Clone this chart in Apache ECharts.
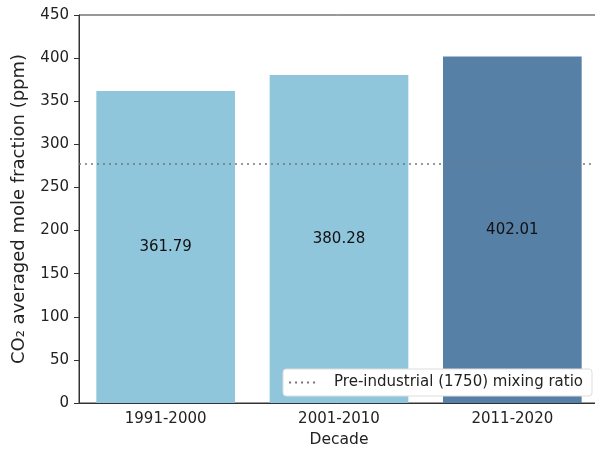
<!DOCTYPE html>
<html>
<head>
<meta charset="utf-8">
<script src="https://cdn.jsdelivr.net/npm/echarts@6/dist/echarts.min.js"></script>
<style>
  html, body { margin: 0; padding: 0; background: #fff; }
  #chart { width: 595px; height: 451px; }
</style>
</head>
<body>
<div id="chart"></div>
<script>
// data
const decades = ['1991-2000', '2001-2010', '2011-2020'];
const co2 = [361.79, 380.28, 402.01];
const barColors = ['#8fc6dc', '#8fc6dc', '#5680a6'];
const preIndustrial = 278;
const yTicks = [0, 50, 100, 150, 200, 250, 300, 350, 400, 450];

let myChart = echarts.init(document.getElementById('chart'));

let barData = co2.map((v, i) => ({ value: v, itemStyle: { color: barColors[i] } }));

const font = 'DejaVu Sans';

let option = {
    animation: false,
    textStyle: { fontFamily: font },
    // plot runs past the right edge of the picture
    grid: { left: 79, width: 520, top: 15, bottom: 48, outerBoundsMode: 'none', show: true, borderColor: '#333', borderWidth: 1, backgroundColor: 'transparent' },
    legend: {
        right: 3,
        bottom: 55,
        data: ['Pre-industrial (1750) mixing ratio'],
        backgroundColor: '#fff',
        borderColor: '#ddd',
        borderWidth: 1,
        borderRadius: 3,
        padding: [6, 9, 6, 5],
        itemWidth: 30,
        itemHeight: 10,
        itemGap: 6,
        itemStyle: { opacity: 0 },
        textStyle: { fontSize: 15, color: '#222', fontFamily: font, padding: [0, 0, 0, 10] }
    },
    xAxis: {
        type: 'category',
        data: decades,
        name: 'Decade',
        nameLocation: 'middle',
        nameGap: 29,
        nameTextStyle: { fontSize: 15.5, color: '#222' },
        axisLine: { lineStyle: { color: '#333' } },
        axisTick: { alignWithLabel: true, length: 5, lineStyle: { color: '#333' } },
        axisLabel: { fontSize: 15, color: '#222', margin: 9 }
    },
    yAxis: {
        type: 'value',
        min: yTicks[0],
        max: yTicks[yTicks.length - 1],
        interval: 50,
        name: 'CO\u2082 averaged mole fraction (ppm)',
        nameLocation: 'middle',
        nameGap: 51,
        nameTextStyle: { fontSize: 18, color: '#222' },
        axisLine: { show: true, lineStyle: { color: '#333' } },
        axisTick: { show: true, length: 5, lineStyle: { color: '#333' } },
        axisLabel: { fontSize: 15, color: '#222', margin: 10 },
        splitLine: { show: false }
    },
    series: [
        {
            type: 'bar',
            data: barData,
            barWidth: '80%',
            label: {
                show: true,
                position: 'inside',
                color: '#111',
                fontSize: 15,
                formatter: p => p.value.toFixed(2)
            }
        },
        {
            name: 'Pre-industrial (1750) mixing ratio',
            type: 'line',
            data: [],
            symbol: 'none',
            lineStyle: { color: '#777', type: [2, 4], width: 1.5 },
            itemStyle: { color: '#777' },
            markLine: {
                silent: true,
                symbol: 'none',
                label: { show: false },
                lineStyle: { color: '#777', type: [2, 4], width: 1.5 },
                data: [{ yAxis: preIndustrial }]
            }
        }
    ]
};

myChart.setOption(option);
</script>
</body>
</html>
